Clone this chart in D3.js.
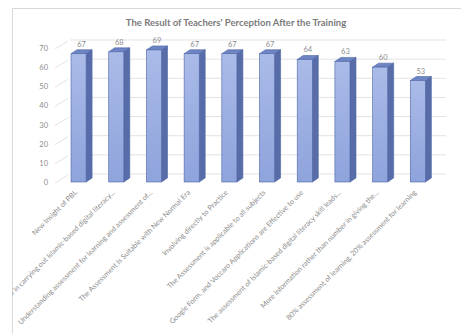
<!DOCTYPE html>
<html>
<head>
<meta charset="utf-8">
<script src="https://cdn.jsdelivr.net/npm/d3@7.9.0/dist/d3.min.js"></script>
<style>
  html, body { margin: 0; padding: 0; background: #fff; }
  svg { display: block; font-family: Lato, "Open Sans", sans-serif; }
</style>
</head>
<body>
<svg id="chart" width="461" height="334"></svg>
<script>
// Data
const categories = [
  'New Insight of PBL',
  'Skill in carrying out Islamic-based digital literacy...',
  'Understanding assessment for learning and assessment of...',
  'The Assessment Is Suitable with New Normal Era',
  'Involving directly to Practice',
  'The Assessment is applicable to all subjects',
  'Google Form, and Voccaro Applications are Effective to use',
  'The assessment of Islamic-based digital literacy skill leads...',
  'More information rather than number in giving the...',
  '80% assessment of learning, 20% assessment for learning'
];
const values = [67, 68, 69, 67, 67, 67, 64, 63, 60, 53];
const yTicks = [0, 10, 20, 30, 40, 50, 60, 70];
const title = "The Result of Teachers' Perception After the Training";

const svg = d3.select('#chart');

// frame of the chart (clips the long labels like the original)
svg.append('clipPath').attr('id', 'frame')
  .append('rect').attr('x', 12).attr('y', 8).attr('width', 460).attr('height', 340);
svg.append('rect')
  .attr('x', 12.5).attr('y', 8.5).attr('width', 460).attr('height', 340)
  .attr('fill', '#fff').attr('stroke', '#d9d9d9');

const g = svg.append('g').attr('clip-path', 'url(#frame)');

// scales
const x = d3.scaleBand().domain(categories).range([48.4, 448]).paddingInner(0.6).paddingOuter(0.6);
const y = d3.scaleLinear().domain([0, 70]).range([182, 48]);

// 3D offsets
const wallDx = 13, wallDy = -8;   // side wall / floor depth
const barDx = 6, barDy = -4;      // bar depth

// title
svg.append('text')
  .attr('x', 236).attr('y', 26)
  .attr('text-anchor', 'middle')
  .attr('font-size', 9.5).attr('font-weight', 'bold')
  .attr('fill', '#7a7a7a')
  .text(title);

// gridlines on the back wall + diagonals on the side wall
const grid = g.append('g');
yTicks.forEach(t => {
  const yb = y(t) + wallDy;
  grid.append('line')
    .attr('x1', 57 + wallDx).attr('x2', 446)
    .attr('y1', yb).attr('y2', yb)
    .attr('stroke', '#e3e3e3').attr('stroke-width', 1);
  grid.append('line')
    .attr('x1', 55).attr('y1', y(t) + 1)
    .attr('x2', 55 + wallDx).attr('y2', y(t) + 1 + wallDy)
    .attr('stroke', '#e3e3e3').attr('stroke-width', 1);
});

// y axis labels
g.append('g').selectAll('text').data(yTicks).join('text')
  .attr('x', 48).attr('y', d => y(d) + 3)
  .attr('text-anchor', 'end')
  .attr('font-size', 7.5).attr('fill', '#8c8c8c')
  .text(d => d);

// gradient for bar fronts
const defs = svg.append('defs');
const grad = defs.append('linearGradient').attr('id', 'front')
  .attr('x1', 0).attr('y1', 0).attr('x2', 0).attr('y2', 1);
grad.append('stop').attr('offset', '0%').attr('stop-color', '#aabbe8');
grad.append('stop').attr('offset', '100%').attr('stop-color', '#8fa3dc');

const bw = x.bandwidth();
const bars = g.append('g').selectAll('g').data(values).join('g');

// side face
bars.append('path')
  .attr('d', (d, i) => {
    const x0 = x(categories[i]) + bw, yt = y(d), yb = y(0);
    return `M${x0},${yt}L${x0 + barDx},${yt + barDy}L${x0 + barDx},${yb + barDy}L${x0},${yb}Z`;
  })
  .attr('fill', '#586da8').attr('stroke', '#4c64a6').attr('stroke-width', 0.6);

// top face
bars.append('path')
  .attr('d', (d, i) => {
    const x0 = x(categories[i]), yt = y(d);
    return `M${x0},${yt}L${x0 + barDx},${yt + barDy}L${x0 + bw + barDx},${yt + barDy}L${x0 + bw},${yt}Z`;
  })
  .attr('fill', '#6e85c4').attr('stroke', '#4c64a6').attr('stroke-width', 0.6);

// front face
bars.append('rect')
  .attr('x', (d, i) => x(categories[i]))
  .attr('y', d => y(d))
  .attr('width', bw)
  .attr('height', d => y(0) - y(d))
  .attr('fill', 'url(#front)')
  .attr('stroke', '#4c64a6').attr('stroke-width', 0.6);

// value labels
bars.append('text')
  .attr('x', (d, i) => x(categories[i]) + bw / 2 + 3)
  .attr('y', d => y(d) + barDy - 3)
  .attr('text-anchor', 'middle')
  .attr('font-size', 7.5).attr('fill', '#8c8c8c')
  .text(d => d);

// category labels, rotated -45
g.append('g').selectAll('text').data(categories).join('text')
  .attr('transform', d => `translate(${x(d) + bw / 2 - 1},${193}) rotate(-45)`)
  .attr('text-anchor', 'end')
  .attr('font-size', 7.2).attr('fill', '#8c8c8c')
  .text(d => d);
</script>
</body>
</html>
